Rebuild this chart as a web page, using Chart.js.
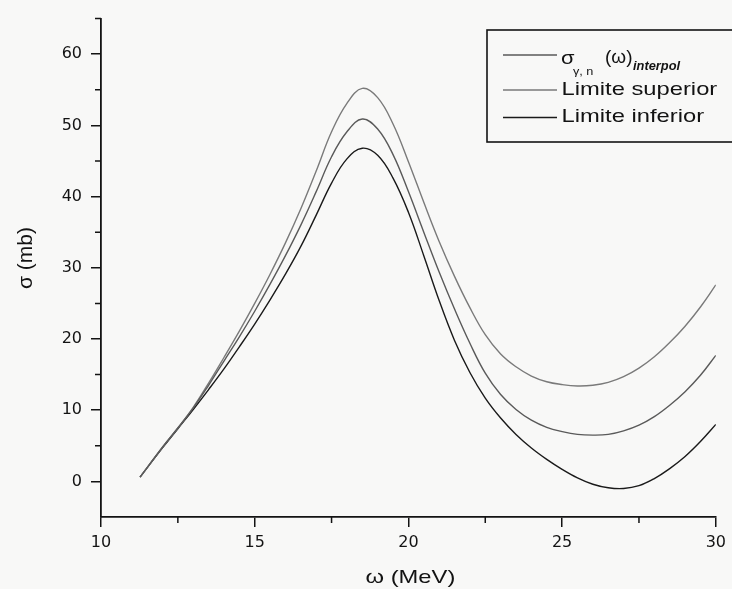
<!DOCTYPE html>
<html>
<head>
<meta charset="utf-8">
<script src="https://cdn.jsdelivr.net/npm/chart.js@4.4.1/dist/chart.umd.min.js"></script>
<style>
  html, body { margin: 0; padding: 0; background: #f8f8f7; }
  #wrap { width: 732px; height: 589px; position: relative; }
</style>
</head>
<body>
<div id="wrap"><canvas id="c" width="732" height="589"></canvas></div>
<script>
// ---- data ----
const omega = [11.27, 12.0, 12.5, 13.0, 13.5, 14.0, 14.5, 15.0, 15.5, 16.0, 16.5, 17.0, 17.5, 18.0, 18.5, 19.0, 19.5, 20.0, 20.5, 21.0, 21.5, 22.0, 22.5, 23.0, 23.5, 24.0, 24.5, 25.0, 25.5, 26.0, 26.5, 27.0, 27.5, 28.0, 28.5, 29.0, 29.5, 30.0];
const sigmaInterpol = [0.6, 4.8, 7.5, 10.3, 13.5, 16.9, 20.3, 23.9, 27.7, 31.7, 36.0, 40.7, 45.6, 49.1, 50.9, 49.5, 45.9, 40.7, 35.0, 29.4, 24.2, 19.4, 15.2, 12.2, 10.1, 8.6, 7.6, 7.0, 6.6, 6.5, 6.6, 7.1, 7.9, 9.1, 10.7, 12.6, 14.9, 17.7];
const limiteSuperior = [0.6, 4.8, 7.5, 10.4, 13.8, 17.4, 21.1, 25.0, 29.1, 33.5, 38.3, 43.6, 49.1, 53.1, 55.2, 53.9, 50.2, 44.9, 39.2, 33.7, 28.8, 24.4, 20.6, 17.9, 16.1, 14.8, 14.0, 13.6, 13.4, 13.5, 13.9, 14.7, 15.9, 17.5, 19.5, 21.8, 24.5, 27.6];
const limiteInferior = [0.6, 4.7, 7.4, 10.1, 12.9, 15.8, 18.9, 22.1, 25.5, 29.1, 33.0, 37.4, 41.9, 45.3, 46.8, 45.8, 42.6, 37.8, 31.7, 25.4, 19.8, 15.3, 11.7, 8.9, 6.6, 4.7, 3.1, 1.7, 0.5, -0.4, -0.9, -1.0, -0.6, 0.4, 1.8, 3.5, 5.6, 8.0];
const xMajorTicks = [10, 15, 20, 25, 30];
const xMinorTicks = [12.5, 17.5, 22.5, 27.5];
const yMajorTicks = [0, 10, 20, 30, 40, 50, 60];
const yMinorTicks = [5, 15, 25, 35, 45, 55, 65];

const INK = '#131313';
const C_INTERPOL = '#5a5a5a';
const C_SUP = '#7a7a7a';
const C_INF = '#1a1a1a';

function pts(ys) { return omega.map((x, i) => ({ x: x, y: ys[i] })); }

function stretchText(ctx, s, x, y, font, sx, align) {
  ctx.save();
  ctx.translate(x, y);
  ctx.scale(sx, 1);
  ctx.font = font;
  ctx.textAlign = align || 'left';
  ctx.textBaseline = 'alphabetic';
  ctx.fillText(s, 0, 0);
  ctx.restore();
}

const deco = {
  id: 'deco',
  afterDraw(chart) {
    const ctx = chart.ctx;
    const xs = chart.scales.x, ys = chart.scales.y;
    const a = chart.chartArea;
    ctx.save();
    ctx.strokeStyle = INK;
    ctx.lineWidth = 1.5;
    // minor ticks
    ctx.beginPath();
    yMinorTicks.forEach(v => {
      const p = ys.getPixelForValue(v);
      ctx.moveTo(a.left - 6, p); ctx.lineTo(a.left, p);
    });
    xMinorTicks.forEach(v => {
      const p = xs.getPixelForValue(v);
      ctx.moveTo(p, a.bottom); ctx.lineTo(p, a.bottom + 6);
    });
    ctx.stroke();

    ctx.fillStyle = INK;
    // axis titles
    stretchText(ctx, '\u03c9 (MeV)', (a.left + a.right) / 2 + 2, 583, '19px "Liberation Sans", Arial, sans-serif', 1.25, 'center');
    ctx.save();
    ctx.translate(32, 258);
    ctx.rotate(-Math.PI / 2);
    ctx.font = '21px "Liberation Sans", Arial, sans-serif';
    ctx.textAlign = 'center';
    ctx.textBaseline = 'alphabetic';
    ctx.fillText('\u03c3 (mb)', 0, 0);
    ctx.restore();

    // legend box
    ctx.lineWidth = 1.6;
    ctx.strokeRect(487, 30, 270, 112);
    const rows = [
      { y: 55, c: C_INTERPOL, w: chart.data.datasets[0].borderWidth },
      { y: 90, c: C_SUP, w: chart.data.datasets[1].borderWidth },
      { y: 117.5, c: C_INF, w: chart.data.datasets[2].borderWidth }
    ];
    rows.forEach(r => {
      ctx.strokeStyle = r.c; ctx.lineWidth = r.w;
      ctx.beginPath(); ctx.moveTo(503, r.y); ctx.lineTo(557, r.y); ctx.stroke();
    });
    ctx.fillStyle = INK;
    stretchText(ctx, '\u03c3', 561, 63.5, '19px "Liberation Sans", Arial, sans-serif', 1.15);
    stretchText(ctx, '\u03b3, n', 573, 75, '11px "Liberation Sans", Arial, sans-serif', 1.15);
    stretchText(ctx, '(\u03c9)', 605, 63, '19px "Liberation Sans", Arial, sans-serif', 1.0);
    stretchText(ctx, 'interpol', 633, 70, 'italic bold 12px "Liberation Sans", Arial, sans-serif', 1.07);
    stretchText(ctx, 'Limite superior', 561.5, 95, '19px "Liberation Sans", Arial, sans-serif', 1.25);
    stretchText(ctx, 'Limite inferior', 561.5, 121.7, '19px "Liberation Sans", Arial, sans-serif', 1.25);
    ctx.restore();
  }
};

const lineStyle = { borderWidth: 1.4, pointRadius: 0, fill: false, tension: 0.4 };

new Chart(document.getElementById('c'), {
  type: 'line',
  data: {
    datasets: [
      Object.assign({ label: '\u03c3\u03b3,n (\u03c9) interpol', data: pts(sigmaInterpol), borderColor: C_INTERPOL }, lineStyle),
      Object.assign({ label: 'Limite superior', data: pts(limiteSuperior), borderColor: C_SUP }, lineStyle),
      Object.assign({ label: 'Limite inferior', data: pts(limiteInferior), borderColor: C_INF }, lineStyle)
    ]
  },
  options: {
    responsive: false,
    animation: false,
    layout: { padding: { left: 0, right: 14, top: 15, bottom: 0 } },
    plugins: { legend: { display: false }, tooltip: { enabled: false } },
    scales: {
      x: {
        type: 'linear', min: 10, max: 30,
        afterBuildTicks: s => { s.ticks = xMajorTicks.map(v => ({ value: v })); },
        afterFit: s => { s.height = 72; },
        grid: { drawOnChartArea: false, drawTicks: true, tickLength: 10, color: INK, lineWidth: 1.5 },
        border: { display: true, color: INK, width: 1.8 },
        ticks: { color: INK, font: { family: '"DejaVu Sans", sans-serif', size: 16 }, padding: 6, maxRotation: 0 }
      },
      y: {
        type: 'linear', min: -5, max: 65,
        afterBuildTicks: s => { s.ticks = yMajorTicks.map(v => ({ value: v })); },
        afterFit: s => { s.width = 101; },
        grid: { drawOnChartArea: false, drawTicks: true, tickLength: 10, color: INK, lineWidth: 1.5 },
        border: { display: true, color: INK, width: 1.8 },
        ticks: { color: INK, font: { family: '"DejaVu Sans", sans-serif', size: 16 }, padding: 9 }
      }
    }
  },
  plugins: [deco]
});
</script>
</body>
</html>
